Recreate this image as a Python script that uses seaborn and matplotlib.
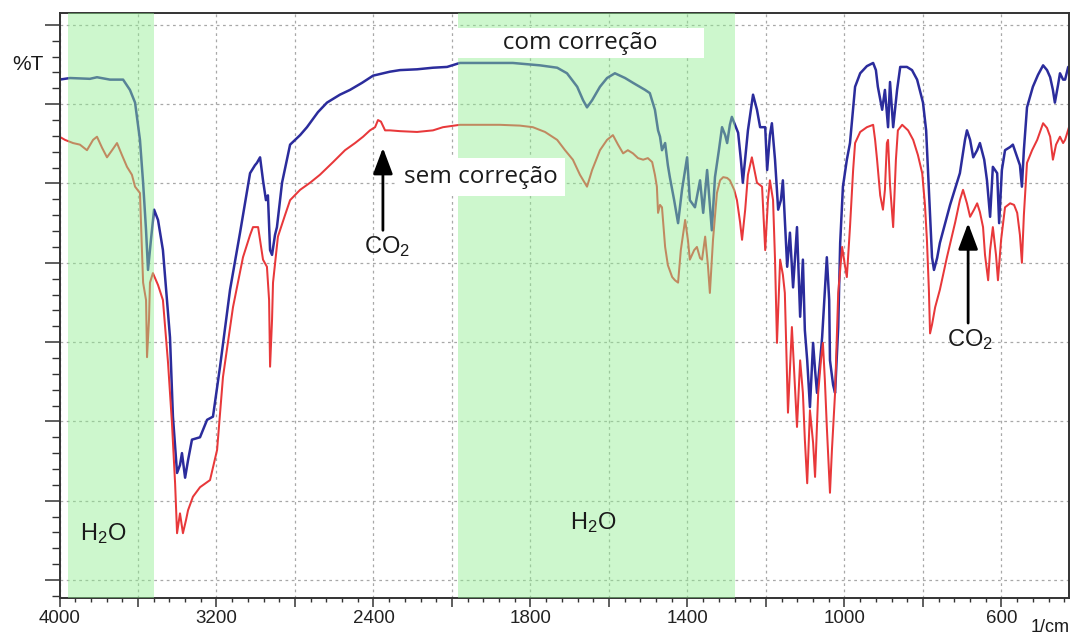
import numpy as np
import pandas as pd
import matplotlib
matplotlib.use("Agg")
import matplotlib.pyplot as plt
from matplotlib.ticker import FixedLocator, FuncFormatter, NullFormatter
import seaborn as sns

# FTIR transmittance spectra (wavenumber in 1/cm, %T)
wn_corr = [4000, 3946, 3845, 3809, 3743, 3676, 3641, 3615, 3590, 3574,
           3559, 3549, 3534, 3518, 3498, 3473, 3437, 3422, 3401, 3386,
           3376, 3360, 3345, 3325, 3284, 3248, 3218, 3182, 3131, 3080,
           3029, 3004, 2994, 2978, 2963, 2948, 2938, 2927, 2917, 2902,
           2892, 2866, 2825, 2774, 2739, 2683, 2637, 2571, 2520, 2458,
           2402, 2316, 2265, 2178, 2097, 2025, 1980, 1903, 1845, 1776,
           1732, 1707, 1681, 1666, 1656, 1643, 1623, 1605, 1585, 1559,
           1539, 1508, 1496, 1483, 1475, 1470, 1465, 1457, 1450, 1445,
           1434, 1424, 1414, 1401, 1394, 1381, 1368, 1360, 1350, 1338,
           1330, 1320, 1312, 1304, 1299, 1292, 1287, 1279, 1271, 1264,
           1259, 1246, 1233, 1223, 1215, 1202, 1197, 1190, 1185, 1177,
           1169, 1162, 1157, 1152, 1146, 1139, 1131, 1121, 1113, 1106,
           1101, 1095, 1088, 1080, 1075, 1070, 1062, 1057, 1050, 1045,
           1039, 1037, 1029, 1024, 1016, 1011, 1004, 994, 986, 973,
           960, 943, 927, 920, 915, 904, 897, 889, 884, 876,
           866, 858, 841, 828, 815, 800, 792, 787, 782, 777,
           772, 764, 757, 731, 706, 693, 688, 680, 672, 662,
           655, 644, 637, 629, 622, 611, 606, 599, 591, 578,
           571, 560, 553, 548, 543, 535, 520, 507, 494, 484,
           476, 469, 464, 456, 451, 443, 438, 430]
t_corr = [73.1, 73.3, 73.2, 73.4, 73.1, 73.1, 71.8, 70.2, 65.5, 60.1,
          54.1, 49.1, 52.9, 56.7, 55.4, 51.6, 40.6, 30.6, 23.5, 24.5,
          26.0, 22.9, 25.1, 27.7, 28.0, 30.2, 30.6, 36.9, 46.6, 53.8,
          61.3, 62.3, 62.6, 63.3, 60.4, 57.9, 58.5, 51.6, 51.0, 53.5,
          54.5, 60.1, 64.9, 66.1, 67.1, 69.0, 70.2, 71.2, 71.8, 72.7,
          73.6, 74.1, 74.3, 74.4, 74.6, 74.7, 75.2, 75.2, 75.2, 74.9,
          74.6, 73.9, 72.2, 70.5, 69.6, 70.5, 72.2, 73.3, 73.9, 73.3,
          72.7, 71.8, 71.4, 69.3, 66.7, 65.9, 64.2, 65.1, 62.3, 60.8,
          57.9, 55.0, 59.2, 63.3, 57.9, 57.0, 60.4, 56.3, 61.7, 54.1,
          60.8, 64.2, 67.1, 66.1, 65.1, 67.4, 68.4, 67.4, 66.4, 63.0,
          60.1, 66.7, 71.2, 69.3, 67.1, 67.1, 61.7, 66.1, 67.6, 63.0,
          56.7, 57.9, 60.4, 55.4, 49.5, 53.8, 46.9, 54.5, 43.2, 50.4,
          41.5, 37.7, 31.8, 39.9, 36.5, 33.6, 37.7, 40.6, 46.6, 50.7,
          45.3, 37.7, 34.6, 33.6, 41.9, 52.5, 59.6, 63.0, 65.1, 72.2,
          73.9, 74.8, 75.2, 74.3, 72.2, 69.3, 71.8, 67.1, 72.8, 67.1,
          71.8, 74.7, 74.7, 74.3, 73.1, 70.2, 66.7, 61.3, 56.0, 50.7,
          49.1, 50.6, 52.5, 57.3, 61.3, 65.5, 66.7, 65.5, 63.3, 64.2,
          65.1, 63.0, 60.4, 55.8, 62.1, 61.3, 55.0, 61.7, 64.2, 64.6,
          64.9, 63.3, 62.3, 59.6, 64.2, 69.6, 72.2, 73.7, 74.9, 74.3,
          73.4, 71.8, 70.2, 72.4, 73.9, 73.1, 73.1, 74.7]

wn_raw = [4000, 3972, 3931, 3896, 3860, 3829, 3809, 3783, 3758, 3732,
          3707, 3682, 3656, 3631, 3615, 3590, 3574, 3559, 3554, 3544,
          3539, 3524, 3498, 3473, 3447, 3427, 3411, 3401, 3386, 3371,
          3355, 3345, 3320, 3284, 3233, 3197, 3167, 3116, 3065, 3029,
          3014, 2988, 2963, 2943, 2932, 2927, 2917, 2912, 2887, 2851,
          2825, 2774, 2723, 2673, 2606, 2545, 2494, 2453, 2418, 2392,
          2377, 2362, 2341, 2316, 2265, 2178, 2097, 2046, 1980, 1929,
          1878, 1827, 1794, 1763, 1732, 1712, 1692, 1674, 1656, 1643,
          1623, 1605, 1590, 1577, 1564, 1552, 1539, 1526, 1513, 1501,
          1490, 1483, 1478, 1475, 1470, 1465, 1457, 1450, 1439, 1432,
          1424, 1417, 1406, 1399, 1394, 1383, 1376, 1368, 1363, 1355,
          1348, 1343, 1335, 1325, 1317, 1309, 1299, 1292, 1281, 1274,
          1266, 1261, 1253, 1246, 1236, 1223, 1210, 1202, 1195, 1190,
          1182, 1177, 1172, 1164, 1157, 1152, 1144, 1134, 1126, 1121,
          1113, 1106, 1101, 1095, 1088, 1080, 1075, 1067, 1060, 1055,
          1050, 1045, 1037, 1032, 1024, 1016, 1006, 999, 994, 986,
          978, 973, 960, 943, 927, 922, 917, 909, 902, 897,
          892, 889, 884, 876, 869, 864, 853, 838, 825, 813,
          802, 795, 790, 785, 782, 777, 769, 757, 739, 718,
          706, 698, 688, 680, 670, 662, 655, 647, 642, 634,
          629, 622, 614, 609, 601, 591, 578, 568, 560, 553,
          548, 543, 535, 522, 509, 494, 484, 476, 469, 461,
          451, 443, 438, 428]
t_raw = [65.9, 65.5, 65.1, 64.9, 64.2, 65.5, 65.9, 64.5, 63.3, 64.2,
         65.1, 63.6, 62.1, 61.1, 59.6, 58.8, 47.5, 45.3, 38.1, 42.8,
         47.5, 48.7, 47.2, 45.3, 37.4, 29.8, 22.2, 15.9, 18.4, 15.9,
         17.6, 18.8, 20.5, 21.7, 22.6, 26.4, 35.6, 44.4, 50.7, 53.5,
         54.5, 54.5, 50.4, 49.5, 45.3, 36.9, 42.8, 47.5, 53.3, 56.0,
         57.9, 59.2, 60.1, 61.1, 62.7, 64.2, 65.1, 65.9, 66.7, 67.1,
         68.0, 67.8, 66.7, 66.7, 66.6, 66.5, 66.7, 67.1, 67.4, 67.4,
         67.4, 67.3, 67.1, 66.5, 65.5, 64.2, 63.0, 61.1, 59.6, 61.7,
         64.2, 65.5, 66.1, 64.9, 63.8, 64.2, 63.8, 63.2, 63.0, 63.2,
         62.7, 61.1, 59.6, 56.3, 57.3, 57.0, 52.0, 49.7, 48.2, 47.8,
         47.5, 51.6, 55.4, 52.9, 50.4, 51.6, 52.0, 50.6, 50.4, 53.3,
         49.7, 46.2, 52.9, 58.8, 60.4, 60.8, 60.7, 60.4, 59.2, 57.9,
         55.1, 52.9, 56.7, 61.1, 63.3, 60.1, 59.6, 51.6, 57.9, 60.4,
         57.9, 50.4, 39.9, 50.4, 48.5, 46.2, 31.1, 41.9, 34.0, 29.3,
         37.7, 33.6, 27.7, 22.2, 31.4, 27.3, 23.0, 33.6, 37.7, 39.9,
         35.2, 29.3, 21.0, 26.4, 33.6, 46.2, 52.0, 49.7, 48.2, 54.5,
         61.7, 65.1, 66.5, 67.1, 67.4, 65.5, 63.0, 58.5, 56.7, 59.2,
         65.1, 65.5, 59.8, 54.5, 63.0, 66.7, 67.4, 66.7, 65.5, 63.6,
         61.3, 57.3, 52.9, 46.6, 41.1, 42.2, 44.4, 46.6, 50.7, 55.1,
         57.9, 59.2, 57.5, 55.8, 56.7, 57.5, 56.4, 54.5, 51.0, 47.8,
         51.6, 54.5, 51.0, 47.8, 52.9, 57.0, 57.5, 57.3, 56.3, 53.5,
         50.0, 56.0, 62.6, 64.2, 65.5, 67.6, 67.0, 65.9, 63.0, 64.9,
         65.9, 65.1, 65.5, 67.1]

# shaded water-vapour regions (1/cm)
h2o_bands = [(3957, 3520), (1985, 1279)]
x_labeled = [4000, 3200, 2400, 1800, 1400, 1000, 600]

spectra = pd.concat([
    pd.DataFrame({"wn": wn_corr, "T": t_corr, "serie": "com correção"}),
    pd.DataFrame({"wn": wn_raw, "T": t_raw, "serie": "sem correção"}),
])

sns.set_theme(style="white")
plt.rcParams["font.family"] = ["Liberation Sans", "DejaVu Sans"]
plt.rcParams["mathtext.default"] = "regular"

fig = plt.figure(figsize=(10.73, 6.34), dpi=100)
ax = fig.add_axes([59.5 / 1073, 36 / 634, 1009.5 / 1073, 585 / 634])


# wavenumber axis: scale doubles below 2000 1/cm
def fwd(w):
    w = np.asarray(w, dtype=float)
    return np.where(w >= 2000, w, 2.0 * w - 2000.0)


def inv(u):
    u = np.asarray(u, dtype=float)
    return np.where(u >= 2000, u, (u + 2000.0) / 2.0)


ax.set_xscale("function", functions=(fwd, inv))

sns.lineplot(data=spectra, x="wn", y="T", hue="serie",
             palette={"com correção": "#2b2c9c", "sem correção": "#e8383a"},
             estimator=None, sort=False, legend=False, ax=ax, zorder=2)
for line, lw in zip(ax.get_lines(), [1.8, 1.45]):
    line.set_linewidth(lw)
    line.set_solid_joinstyle("round")

for a, b in h2o_bands:
    ax.axvspan(a, b, color="#90ee90", alpha=0.45, lw=0, zorder=3)

ax.set_xlim(4000, 428)
ax.set_ylim(7.73, 81.5)

major_x = [4000, 3600, 3200, 2800, 2400, 2000, 1800, 1600, 1400, 1200, 1000, 800, 600]
minor_x = sorted(set(np.arange(2000, 4000, 80).tolist() + np.arange(440, 2000, 40).tolist()) - set(major_x))
ax.xaxis.set_major_locator(FixedLocator(major_x))
ax.xaxis.set_minor_locator(FixedLocator(minor_x))
ax.xaxis.set_major_formatter(FuncFormatter(lambda v, p: f"{int(round(v))}" if int(round(v)) in x_labeled else ""))
ax.yaxis.set_major_locator(FixedLocator(np.arange(10, 81, 10)))
ax.yaxis.set_minor_locator(FixedLocator(np.arange(8, 82, 2)))
ax.yaxis.set_major_formatter(NullFormatter())

ax.grid(True, which="major", color="#a8a8a8", linestyle=(0, (2.2, 2.8)), linewidth=0.9)
ax.tick_params(axis="x", which="major", direction="out", length=6.5, width=1.1,
               color="#333333", labelsize=13.5, labelcolor="#222222", pad=2, bottom=True)
ax.tick_params(axis="x", which="minor", direction="out", length=3, width=1.0,
               color="#333333", bottom=True)
ax.tick_params(axis="y", which="major", direction="out", length=11, width=1.1,
               color="#333333", left=True)
ax.tick_params(axis="y", which="minor", direction="out", length=5.5, width=1.0,
               color="#333333", left=True)
for s in ax.spines.values():
    s.set_color("#333333")
    s.set_linewidth(1.4)
ax.set_xlabel("")
ax.set_ylabel("")

# labels
ax.text(1674, 77.7, "       com correção       ", fontfamily=["Open Sans", "DejaVu Sans"],
        fontsize=17.5, ha="center", va="center", color="#1a1a1a",
        bbox=dict(boxstyle="square,pad=0.12", fc="white", ec="none"), zorder=6)
ax.text(1926, 60.8, "sem correção", fontfamily=["Open Sans", "DejaVu Sans"],
        fontsize=17.5, ha="center", va="center", color="#1a1a1a",
        bbox=dict(boxstyle="square,pad=0.3", fc="white", ec="none"), zorder=6)

arrow = dict(arrowstyle="-|>,head_length=0.8,head_width=0.3", mutation_scale=20,
             color="black", lw=2.0, shrinkA=0, shrinkB=0)
ax.annotate("", xy=(2352, 64.5), xytext=(2352, 54.1), arrowprops=arrow, zorder=6)
ax.text(2331, 52.0, "CO$_2$", fontsize=17, ha="center", va="center", color="#1a1a1a", zorder=6)
ax.annotate("", xy=(685, 55.0), xytext=(685, 42.4), arrowprops=arrow, zorder=6)
ax.text(680, 40.3, "CO$_2$", fontsize=17, ha="center", va="center", color="#1a1a1a", zorder=6)

ax.text(3778, 15.9, "H$_2$O", fontsize=17, ha="center", va="center", color="#1a1a1a", zorder=6)
ax.text(1641, 17.3, "H$_2$O", fontsize=17, ha="center", va="center", color="#1a1a1a", zorder=6)

fig.text(27.5 / 1073, 1 - 65 / 634, "%T", fontsize=15, ha="center", va="center", color="#1a1a1a")
fig.text(1050 / 1073, 1 - 627 / 634, "1/cm", fontsize=13, ha="center", va="center", color="#1a1a1a")

fig.savefig("out.png", dpi=100)
